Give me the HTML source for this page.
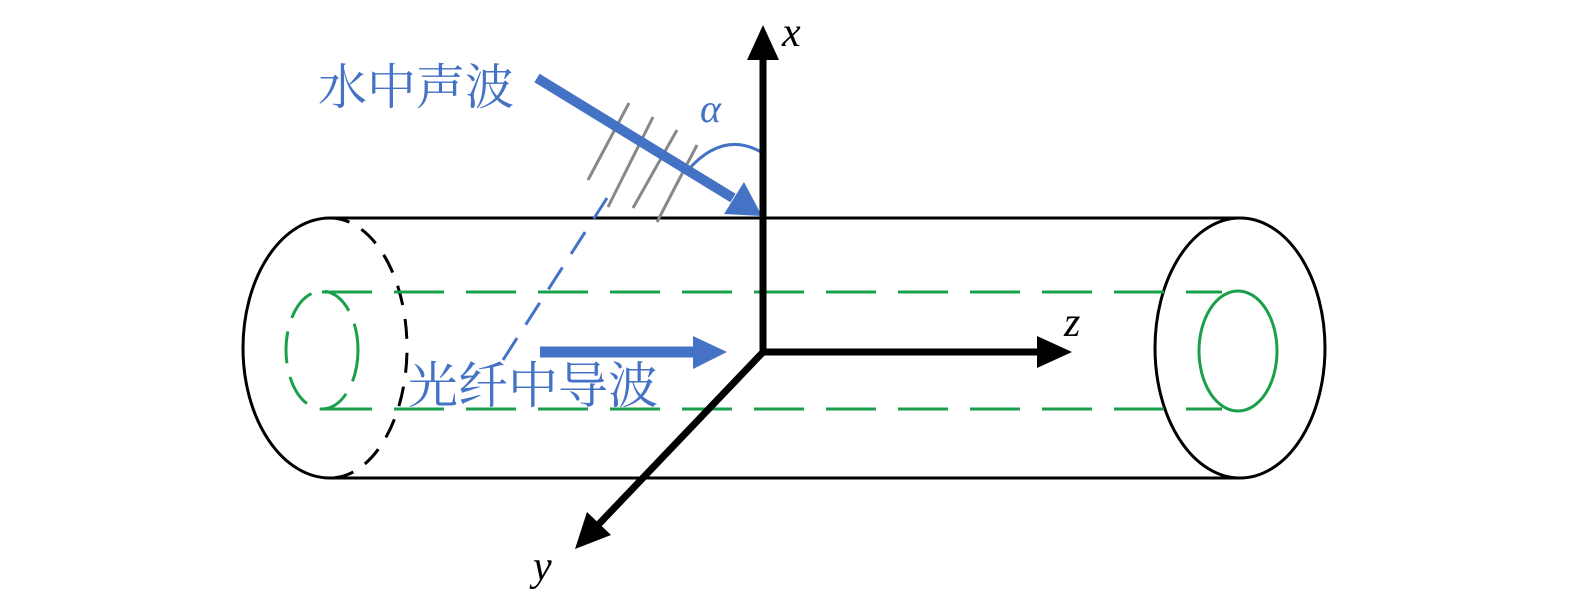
<!DOCTYPE html>
<html><head><meta charset="utf-8"><style>
html,body{margin:0;padding:0;background:#fff;}
svg{display:block;}
</style></head><body>
<svg width="1575" height="600" viewBox="0 0 1575 600" xmlns="http://www.w3.org/2000/svg">
<rect width="1575" height="600" fill="#fff"/>
<line x1="330" y1="218" x2="1240" y2="218" stroke="#000" stroke-width="3"/>
<line x1="330" y1="478" x2="1240" y2="478" stroke="#000" stroke-width="3"/>
<path d="M330 218 A87 130 0 0 0 330 478" fill="none" stroke="#000" stroke-width="3"/>
<path d="M330 218 A77 130 0 0 1 330 478" fill="none" stroke="#000" stroke-width="3" stroke-dasharray="20 14"/>
<ellipse cx="1240" cy="348" rx="85" ry="130" fill="none" stroke="#000" stroke-width="3"/>
<line x1="322" y1="292" x2="1222" y2="292" stroke="#1aa04a" stroke-width="3" stroke-dasharray="50 22"/>
<line x1="322" y1="409" x2="1222" y2="409" stroke="#1aa04a" stroke-width="3" stroke-dasharray="50 22"/>
<ellipse cx="322" cy="350" rx="36" ry="59" fill="none" stroke="#1aa04a" stroke-width="3" stroke-dasharray="32 14"/>
<ellipse cx="1238" cy="351" rx="39" ry="60" fill="none" stroke="#1aa04a" stroke-width="3"/>
<g stroke="#888" stroke-width="3">
<line x1="588" y1="180" x2="629" y2="103"/>
<line x1="608" y1="207" x2="653" y2="117"/>
<line x1="633" y1="208" x2="677" y2="130"/>
<line x1="657" y1="222" x2="697" y2="145"/>
</g>
<line x1="503" y1="360" x2="607" y2="198" stroke="#4472c4" stroke-width="3" stroke-dasharray="26 16"/>
<path d="M688 170 Q725 128 766 155" fill="none" stroke="#4472c4" stroke-width="3"/>
<text x="700" y="122" font-family="Liberation Serif,serif" font-style="italic" font-size="40" fill="#4472c4">α</text>
<line x1="537" y1="78" x2="733" y2="198" stroke="#4472c4" stroke-width="10"/>
<polygon points="762,216 724,214 744,182" fill="#4472c4"/>
<line x1="540" y1="352" x2="696" y2="352" stroke="#4472c4" stroke-width="11"/>
<polygon points="727,352 693,336 693,369" fill="#4472c4"/>
<line x1="763" y1="355" x2="763" y2="55" stroke="#000" stroke-width="7"/>
<polygon points="763,25 747,60 779,60" fill="#000"/>
<line x1="760" y1="352" x2="1040" y2="352" stroke="#000" stroke-width="7"/>
<polygon points="1072,352 1037,336 1037,368" fill="#000"/>
<line x1="765" y1="350" x2="598" y2="525" stroke="#000" stroke-width="7"/>
<polygon points="575,549 587,512 611,535" fill="#000"/>
<g font-family="Liberation Serif,serif" font-style="italic" font-size="42" fill="#000">
<text x="782" y="46">x</text>
<text x="1064" y="336">z</text>
<text x="533" y="580">y</text>
</g>
<g font-family="'Liberation Sans','Noto Serif CJK SC','Noto Sans CJK SC',serif" font-size="49" fill="#4472c4">
<text x="318" y="104">水中声波</text>
</g>
<g font-family="'Liberation Sans','Noto Serif CJK SC','Noto Sans CJK SC',serif" font-size="50" fill="#4472c4">
<text x="408" y="403">光纤中导波</text>
</g>
</svg>
</body></html>
